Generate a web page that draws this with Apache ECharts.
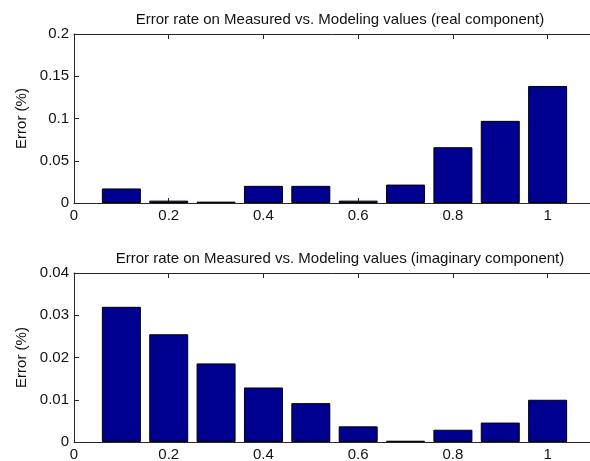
<!DOCTYPE html>
<html>
<head>
<meta charset="utf-8">
<script src="https://cdn.jsdelivr.net/npm/echarts@6/dist/echarts.min.js"></script>
<style>html,body{margin:0;padding:0;background:#fff;}#c{width:590px;height:461px;}</style>
</head>
<body>
<div id="c"></div>
<script>
const xPositions = [0.1, 0.2, 0.3, 0.4, 0.5, 0.6, 0.7, 0.8, 0.9, 1.0];
const realErrors = [0.0172, 0.0028, 0.0016, 0.0203, 0.0203, 0.0028, 0.0218, 0.0660, 0.0972, 0.1385];
const imagErrors = [0.0320, 0.0255, 0.0186, 0.0129, 0.0092, 0.0037, 0.0003, 0.0029, 0.0046, 0.0100];
const titles = ['Error rate on Measured vs. Modeling values (real component)', 'Error rate on Measured vs. Modeling values (imaginary component)'];
const yLabel = 'Error (%)';
const yMax = [0.2, 0.04];
const yStep = [0.05, 0.01];

const font = 'Liberation Sans';
const lineColor = '#262626';
const grids = [
  {left: 74, width: 521, top: 34, height: 169, outerBoundsMode: 'none', containLabel: false},
  {left: 74, width: 521, top: 273, height: 169, outerBoundsMode: 'none', containLabel: false}
];
const xAxes = [], yAxes = [], series = [], title = [];
[realErrors, imagErrors].forEach((vals, i) => {
  const base = {
    gridIndex: i, type: 'value', min: 0, max: 1.1, interval: 0.2,
    axisLine: {show: true, onZero: false, lineStyle: {color: lineColor, width: 1}},
    axisTick: {show: true, inside: true, length: 5, lineStyle: {color: lineColor}},
    splitLine: {show: false}
  };
  xAxes.push(Object.assign({}, base, {
    position: 'bottom',
    axisLabel: {show: true, color: '#111', fontFamily: font, fontSize: 15, margin: 5, showMaxLabel: false,
      formatter: v => (Math.abs(v - 1.1) < 1e-9 ? '' : String(+v.toFixed(2)))}
  }));
  xAxes.push(Object.assign({}, base, {position: 'top', axisLabel: {show: false}}));
  const ybase = {
    gridIndex: i, type: 'value', min: 0, max: yMax[i], interval: yStep[i],
    axisLine: {show: true, onZero: false, lineStyle: {color: lineColor, width: 1}},
    axisTick: {show: true, inside: true, length: 5, lineStyle: {color: lineColor}},
    splitLine: {show: false}
  };
  yAxes.push(Object.assign({}, ybase, {
    position: 'left',
    name: yLabel, nameLocation: 'middle', nameGap: 44,
    nameTextStyle: {fontFamily: font, fontSize: 15, color: '#111'},
    axisLabel: {show: true, color: '#111', fontFamily: font, fontSize: 15, margin: 5,
      formatter: v => String(+v.toFixed(3))}
  }));
  yAxes.push(Object.assign({}, ybase, {position: 'right', axisLabel: {show: false}}));
  series.push({
    type: 'bar', xAxisIndex: i * 2, yAxisIndex: i * 2,
    data: xPositions.map((x, k) => [x, vals[k]]),
    barWidth: 39,
    itemStyle: {color: '#000090', borderColor: '#000', borderWidth: 1},
    silent: true, animation: false
  });
  title.push({
    text: titles[i], left: 335, top: grids[i].top - 27, textAlign: 'center',
    textStyle: {fontFamily: font, fontSize: 15, fontWeight: 'normal', color: '#111'}
  });
});

const chart = echarts.init(document.getElementById('c'), null, {renderer: 'canvas'});
chart.setOption({
  animation: false,
  backgroundColor: '#fff',
  title: title,
  grid: grids,
  xAxis: xAxes,
  yAxis: yAxes,
  series: series
});
</script>
</body>
</html>
